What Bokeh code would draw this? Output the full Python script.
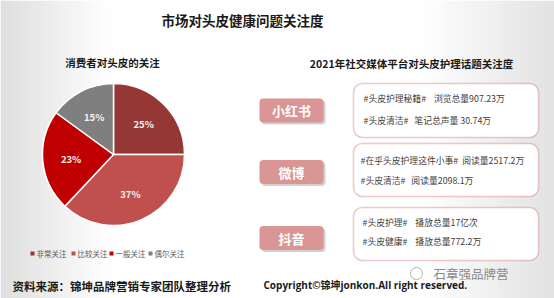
import numpy as np
from bokeh.plotting import figure
from bokeh.models import Range1d, BoxAnnotation
from bokeh.core.properties import value
from bokeh.embed import file_html
from bokeh.resources import INLINE

W, H = 554, 298
FONT = value("Noto Sans CJK SC")
SP = "\u00a0"

# ---------------- data ----------------
categories = ["非常关注", "比较关注", "一般关注", "偶尔关注"]
shares = [25, 37, 23, 15]
colors = ["#953735", "#c0504d", "#c00000", "#7f7f7f"]

platforms = ["小红书", "微博", "抖音"]
topic_tags1 = ["#头皮护理秘籍#", "#在乎头皮护理这件小事#", "#头皮护理#"]
topic_vals1 = ["浏览总量907.23万", "阅读量2517.2万", "播放总量17亿次"]
topic_tags2 = ["#头皮清洁#", "#头皮清洁#", "#头皮健康#"]
topic_vals2 = ["笔记总声量 30.74万", "阅读量2098.1万", "播放总量772.2万"]

title = "市场对头皮健康问题关注度"
left_title = "消费者对头皮的关注"
right_title = "2021年社交媒体平台对头皮护理话题关注度"
source = "资料来源：锦坤品牌营销专家团队整理分析"
copyright_text = "Copyright©锦坤jonkon.All right reserved."
watermark = "石章强品牌营"

def Y(y):
    return H - y

p = figure(width=W, height=H, x_range=Range1d(0, W), y_range=Range1d(0, H),
           output_backend="svg", toolbar_location=None, min_border=0)
p.axis.visible = False
p.grid.visible = False
p.outline_line_color = None
p.background_fill_color = "#ffffff"
p.border_fill_color = "#ffffff"

# background gradient (grey at edges, white in the middle)
xs = np.linspace(0, W, 111)
for a, b in zip(xs[:-1], xs[1:]):
    m = (a + b) / 2
    if m < 110:
        g = 222 + (255 - 222) * (m / 110)
    elif m > 420:
        g = 255 - (255 - 226) * ((m - 420) / (W - 420))
    else:
        g = 255
    g = int(round(min(255, g)))
    p.quad(left=[a], right=[b + 0.6], bottom=[0], top=[H],
           fill_color=(g, g, g), line_color=None, level="underlay")

# ---------------- titles ----------------
p.text(x=[242], y=[Y(19)], text=[title], text_font=FONT, text_font_style="bold",
       text_font_size="13.5px", text_color="#1a1a1a", text_align="center", text_baseline="middle")
p.text(x=[112], y=[Y(62)], text=[left_title], text_font=FONT, text_font_style="bold",
       text_font_size="10.5px", text_color="#1a1a1a", text_align="center", text_baseline="middle")
p.text(x=[411], y=[Y(63)], text=[right_title], text_font=FONT, text_font_style="bold",
       text_font_size="10.5px", text_color="#1a1a1a", text_align="center", text_baseline="middle")

# ---------------- pie ----------------
cx, cy, r = 113, Y(154), 71
tot = float(sum(shares))
cum = np.concatenate([[0], np.cumsum(shares)]) / tot * 2 * np.pi
starts = np.pi / 2 - cum[1:]
ends = np.pi / 2 - cum[:-1]
p.wedge(x=cx, y=cy, radius=r, start_angle=list(starts), end_angle=list(ends),
        fill_color=colors, line_color="white", line_width=1.5)
mids = (starts + ends) / 2
lx = cx + 0.6 * r * np.cos(mids)
ly = cy + 0.6 * r * np.sin(mids)
p.text(x=list(lx), y=list(ly), text=[f"{s}%" for s in shares], text_font=FONT,
       text_font_style="bold", text_font_size="9.5px", text_color="#f2f2f2",
       text_align="center", text_baseline="middle")

# legend
leg_x = [32, 73, 111, 150]
p.scatter(x=leg_x, y=[Y(253)] * 4, marker="square", size=4,
          fill_color=colors, line_color=None)
p.text(x=[v + 4 for v in leg_x], y=[Y(253)] * 4, text=categories, text_font=FONT,
       text_font_size="7.5px", text_color="#595959", text_baseline="middle")

# ---------------- right panel ----------------
plat_y = [110, 171.5, 237.5]
box_top = [83, 143, 207]
box_bot = [137, 196, 260]
for i, name in enumerate(platforms):
    # shadow
    p.add_layout(BoxAnnotation(left=261, right=325, bottom=Y(plat_y[i] + 12) - 2,
                               top=Y(plat_y[i] - 12) - 2, border_radius=4,
                               fill_color="#9a9a9a", fill_alpha=0.45, line_color=None))
    p.add_layout(BoxAnnotation(left=259, right=323, bottom=Y(plat_y[i] + 12),
                               top=Y(plat_y[i] - 12), border_radius=4,
                               fill_color="#d99694", fill_alpha=1.0, line_color=None))
    p.add_layout(BoxAnnotation(left=353, right=538, bottom=Y(box_bot[i]), top=Y(box_top[i]),
                               border_radius=9, fill_color="#ffffff", fill_alpha=1.0,
                               line_color="#c0504d", line_width=1.5))

p.text(x=[291] * 3, y=[Y(v) for v in plat_y], text=platforms, text_font=FONT,
       text_font_style="bold", text_font_size="13px", text_color="#ffffff",
       text_align="center", text_baseline="middle", level="overlay")

gaps1 = [SP * 4, SP * 2, SP * 4]
gaps2 = [SP * 3, SP * 3, SP * 4]
line1 = [t + g + v for t, g, v in zip(topic_tags1, gaps1, topic_vals1)]
line2 = [t + g + v for t, g, v in zip(topic_tags2, gaps2, topic_vals2)]
l1_x = [363, 360, 362]
l1_y = [98, 160, 222]
l2_y = [120, 180, 241]
p.text(x=l1_x, y=[Y(v) for v in l1_y], text=line1, text_font=FONT,
       text_font_size="8.8px", text_color="#404040", text_baseline="middle", level="overlay")
p.text(x=l1_x, y=[Y(v) for v in l2_y], text=line2, text_font=FONT,
       text_font_size="8.8px", text_color="#404040", text_baseline="middle", level="overlay")

# ---------------- footer ----------------
p.text(x=[12], y=[Y(285)], text=[source], text_font=FONT, text_font_style="bold",
       text_font_size="11.5px", text_color="#1a1a1a", text_baseline="middle")
p.text(x=[263], y=[Y(284)], text=[copyright_text],
       text_font=value("'Open Sans', 'Noto Sans CJK SC'"),
       text_font_style="bold", text_font_size="10px", text_color="#1a1a1a",
       text_baseline="middle")
p.scatter(x=[416], y=[Y(273)], marker="circle", size=12, fill_color=None,
          line_color="#b0b0b0", line_width=1)
p.text(x=[433], y=[Y(273)], text=[watermark], text_font=FONT,
       text_font_size="12.5px", text_color="#8a8a8a", text_baseline="middle")

open("out.html", "w").write(file_html(p, INLINE))
